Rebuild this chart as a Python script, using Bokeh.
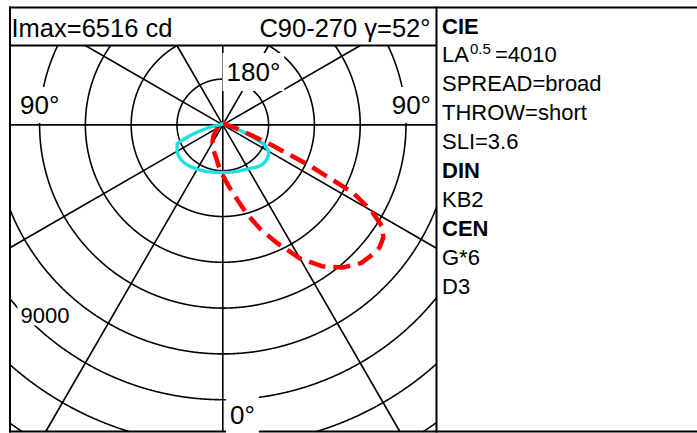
import numpy as np
from bokeh.plotting import figure
from bokeh.models import Range1d, Label
from bokeh.embed import file_html
from bokeh.resources import INLINE

# ---------------- data ----------------
# C90 half-plane (right side, red dashed)
c90_gamma = [0, 5, 10, 15, 20, 25, 30, 35, 40, 45, 50, 52, 55, 57.5, 60, 62.5, 65, 67.5, 70, 75, 80, 85, 90, 105, 120, 135, 150, 165, 180]
c90_cd = [1650, 1980, 2400, 3000, 3650, 4300, 5050, 5650, 6100, 6400, 6510, 6516, 6420, 6180, 5620, 4800, 3100, 1750, 1050, 480, 250, 150, 100, 90, 80, 80, 80, 80, 80]
# C270 half-plane (left side, red dashed)
c270_gamma = [0, 5, 10, 15, 20, 30, 40, 50, 60, 70, 80, 90, 105, 120, 135, 150, 165, 180]
c270_cd = [1650, 1400, 1150, 1000, 880, 680, 480, 300, 200, 150, 120, 100, 90, 80, 80, 80, 80, 80]
# C0 half-plane (right side, cyan)
c0_gamma = [0, 10, 20, 30, 40, 45, 50, 55, 60, 65, 70, 75, 80, 85, 90, 120, 150, 180]
c0_cd = [1556, 1570, 1600, 1660, 1790, 1830, 1840, 1810, 1740, 1500, 850, 420, 250, 150, 80, 50, 40, 40]
# C180 half-plane (left side, cyan)
c180_gamma = [0, 10, 20, 30, 40, 45, 50, 55, 60, 65, 67.5, 70, 72.5, 75, 80, 85, 90, 120, 150, 180]
c180_cd = [1556, 1580, 1620, 1680, 1740, 1770, 1780, 1770, 1730, 1650, 1620, 1350, 1050, 800, 450, 200, 80, 50, 40, 40]

ring_values = [1500, 3000, 4500, 6000, 7500, 9000, 10500, 12000]
spoke_angles = [0, 30, 60, 90, 120, 150, 180, 210, 240, 270, 300, 330]
ring_label = "9000"
header_left = "Imax=6516 cd"
header_right = "C90-270 \u03b3=52\u00b0"
info_lines = ["CIE", "LA", "SPREAD=broad", "THROW=short", "SLI=3.6", "DIN", "KB2", "CEN", "G*6", "D3"]
info_bold = [True, False, False, False, False, True, False, True, False, False]
la_sup = "0.5"
la_rest = "=4010"

# ---------------- layout constants ----------------
W, H = 697, 433
CXP, CYP = 222.3, 124.4          # pixel position of the pole
K = 1500 / 45.8                  # cd per pixel
FONT = "Liberation Sans"
TEXT_SHIFT = 9.5                 # compensation of label baseline placement
BOX_L, BOX_R, BOX_T, BOX_B = 9.5, 436, 45, 431   # polar box (pixels)


def X(px):
    return (px - CXP) * K


def Y(py):
    return (CYP - py) * K


p = figure(width=W, height=H, output_backend="svg", toolbar_location=None,
           x_range=Range1d(X(0), X(W)), y_range=Range1d(Y(H), Y(0)),
           x_axis_type=None, y_axis_type=None, min_border=0,
           min_border_left=0, min_border_right=0, min_border_top=0, min_border_bottom=0)
p.grid.visible = False
p.outline_line_color = None
p.background_fill_color = "white"
p.border_fill_color = "white"

xmin, xmax = X(BOX_L), X(BOX_R)
ymin, ymax = Y(BOX_B), Y(BOX_T)

# polar grid: rings clipped to the box
th = np.radians(np.arange(0, 360.05, 0.1))
for r in ring_values:
    xs = r * np.sin(th)
    ys = r * np.cos(th)
    out = (xs < xmin) | (xs > xmax) | (ys < ymin) | (ys > ymax)
    xs = np.where(out, np.nan, xs)
    ys = np.where(out, np.nan, ys)
    p.line(xs, ys, line_color="black", line_width=1.6)

# spokes clipped to the box
sx1, sy1 = [], []
for ang in spoke_angles:
    a = np.radians(ang)
    dx, dy = np.sin(a), -np.cos(a)
    ts = []
    if dx > 1e-9:
        ts.append(xmax / dx)
    if dx < -1e-9:
        ts.append(xmin / dx)
    if dy > 1e-9:
        ts.append(ymax / dy)
    if dy < -1e-9:
        ts.append(ymin / dy)
    t = min(ts)
    sx1.append(t * dx)
    sy1.append(t * dy)
p.segment(x0=[0] * len(sx1), y0=[0] * len(sy1), x1=sx1, y1=sy1,
          line_color="black", line_width=1.6)


def lobe(g_r, i_r, g_l, i_l):
    gr = np.radians(g_r)
    ir = np.asarray(i_r, float)
    gl = np.radians(g_l)[::-1]
    il = np.asarray(i_l, float)[::-1]
    xs = np.concatenate([ir * np.sin(gr), -il * np.sin(gl)])
    ys = np.concatenate([-ir * np.cos(gr), -il * np.cos(gl)])
    return xs, ys


cx, cy = lobe(c0_gamma, c0_cd, c180_gamma, c180_cd)
p.line(cx, cy, line_color="#18e2e2", line_width=3.4, line_join="round")
rx, ry = lobe(c90_gamma, c90_cd, c270_gamma, c270_cd)
p.line(rx, ry, line_color="#ff0000", line_width=4.5, line_join="round", line_dash="17 8")

# frame lines
fx0 = [X(8.5), X(BOX_L), X(BOX_R), X(BOX_L), X(8.5)]
fx1 = [X(697), X(BOX_L), X(BOX_R), X(BOX_R), X(697)]
fy0 = [Y(7), Y(6), Y(6), Y(BOX_T), Y(BOX_B)]
fy1 = [Y(7), Y(432), Y(432), Y(BOX_T), Y(BOX_B)]
p.segment(x0=fx0, y0=fy0, x1=fx1, y1=fy1, line_color="black", line_width=2)


def lab(px, py, text, size, align="left", bold=False, bg=False, pad=3):
    kw = dict(x=X(px), y=Y(py - TEXT_SHIFT), text=text, text_font=FONT, text_font_size=size,
              text_align=align, text_baseline="alphabetic", text_color="black",
              text_font_style="bold" if bold else "normal")
    if bg:
        kw.update(background_fill_color="white", padding=pad)
    p.add_layout(Label(**kw))


# header
lab(11, 36.5, header_left, "25.5px")
lab(430, 36.5, header_right, "25.5px", align="right")

# polar labels
lab(222, 81, "180\u00b0", "26px", bg=True, pad=4)
lab(16.5, 114, "90\u00b0", "26px", bg=True, pad=3)
lab(433.5, 114, "90\u00b0", "26px", align="right", bg=True, pad=3)
lab(225.5, 424, "0\u00b0", "26px", bg=True, pad=4)
lab(17, 324, ring_label, "22px", bg=True, pad=3)

# info panel
for i, (t, b) in enumerate(zip(info_lines, info_bold)):
    by = 35 + i * 28.9
    lab(441.5, by, t, "22px", bold=b)
    if t == "LA":
        lab(469.5, by - 5.7, la_sup, "15px")
        lab(494.5, by, la_rest, "22px")

open("out.html", "w").write(file_html(p, INLINE))
